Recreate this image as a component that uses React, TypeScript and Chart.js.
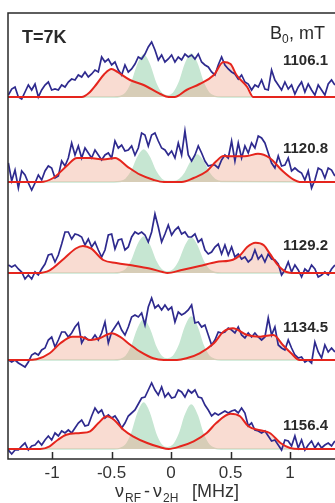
import React, { useEffect, useRef } from "react";
import { Chart, registerables } from "chart.js";

Chart.register(...registerables);

// Magnetic field of each spectrum, top to bottom (mT)
const FIELDS = ["1106.1", "1120.8", "1129.2", "1134.5", "1156.4"];

// Frequency axis (MHz)
const X_MIN = -1.37;
const X_MAX = 1.378;
const X_TICKS = [-1, -0.5, 0, 0.5, 1];
const X_TICK_LABELS = ["-1", "-0.5", "0", "0.5", "1"];

// Experimental ENDOR traces, sampled from TRACE_X0 in steps of TRACE_DX
const TRACE_X0 = -1.367;
const TRACE_DX = 0.028;

const trace1106 = [
  2, 8, 10, 0, -2, 5, 12, 7, 13, 0,
  7, 12, 15, 7, 8, 7, 12, 10, 15, 18,
  17, 22, 20, 25, 20, 23, 27, 25, 40, 35,
  38, 32, 35, 27, 22, 32, 25, 28, 33, 40,
  38, 43, 50, 55, 47, 37, 42, 35, 38, 42,
  35, 40, 37, 43, 40, 42, 38, 43, 35, 32,
  30, 25, 22, 32, 40, 32, 28, 25, 23, 18,
  22, 15, 13, 7, 12, 10, 17, 8, 7, 27,
  17, 12, 7, 15, 8, 12, 3, 10, 15, 5,
  13, 7, 2, 12, 7, 2, 13, 17, 12,
];
const trace1120 = [
  19, 1, 12, -6, 11, 7, -1, -8, -1, 7,
  2, 11, 16, 14, 4, 6, 21, 16, 24, 39,
  27, 36, 24, 34, 29, 24, 32, 27, 22, 27,
  29, 24, 41, 34, 37, 31, 32, 36, 27, 34,
  49, 47, 36, 47, 49, 41, 34, 32, 27, 31,
  24, 39, 27, 51, 27, 21, 27, 36, 29, 21,
  16, 17, 17, 14, 22, 27, 24, 41, 21, 39,
  24, 36, 29, 39, 34, 46, 44, 39, 29, 19,
  14, 26, 16, 17, 24, 11, 14, 11, 9, 2,
  11, -6, 2, 14, 12, 4, 14, 12, 6,
];
const trace1129 = [
  8, 6, 8, 4, 1, -6, -2, -6, 1, -2,
  4, 9, 18, 19, 11, 18, 29, 41, 41, 34,
  39, 38, 36, 28, 34, 26, 31, 23, 16, 23,
  38, 39, 24, 33, 34, 23, 26, 36, 41, 39,
  41, 38, 31, 41, 59, 46, 31, 39, 48, 38,
  43, 46, 39, 41, 36, 36, 39, 31, 34, 23,
  19, 21, 26, 29, 19, 28, 18, 26, 16, 19,
  14, 16, 11, 14, 23, 14, 18, 11, 19, 14,
  13, 9, -2, 3, 11, 1, 8, 3, -4, 4,
  1, 8, 4, -4, -2, 1, -2, 4, 8,
];
const trace1134 = [
  0, -2, 0, -3, -5, -7, -2, 5, 7, 5,
  10, 12, 20, 23, 13, 20, 28, 28, 23, 27,
  33, 37, 17, 23, 20, 20, 25, 20, 27, 38,
  17, 28, 33, 38, 30, 25, 33, 43, 45, 43,
  47, 35, 53, 62, 52, 55, 50, 55, 50, 53,
  38, 48, 45, 47, 50, 55, 37, 38, 33, 35,
  25, 15, 20, 28, 27, 28, 32, 30, 27, 33,
  25, 22, 27, 23, 27, 23, 20, 23, 42, 25,
  33, 15, 12, 10, 20, 12, 5, 2, 3, -2,
  0, -3, 18, 8, 2, 15, 8, 12, 8,
];
const trace1156 = [
  -1, -5, -1, -1, 3, 6, -1, 3, 4, 8,
  4, 9, 13, 9, 16, 13, 18, 16, 19, 16,
  21, 26, 29, 23, 24, 33, 41, 36, 39, 31,
  34, 31, 33, 28, 21, 26, 33, 36, 39, 45,
  51, 52, 59, 66, 59, 54, 62, 52, 56, 51,
  52, 59, 57, 52, 59, 56, 59, 52, 51, 44,
  39, 33, 36, 34, 36, 38, 36, 38, 39, 36,
  41, 36, 23, 26, 19, 18, 16, 18, 13, 8,
  9, 4, -1, 9, 8, 3, 13, 1, 9, -1,
  4, 8, 1, 6, 1, 4, 6, 3, 8,
];

// Simulated outer contribution: [frequency MHz, intensity]
const fit1106: number[][] = [
  [-1.37, 0], [-0.75, 0], [-0.69, 4], [-0.625, 13], [-0.56, 23], [-0.5, 28],
  [-0.45, 25], [-0.345, 17], [-0.23, 12], [-0.09, 3], [-0.02, 0], [0.03, 0],
  [0.13, 7], [0.24, 13], [0.36, 22], [0.44, 35], [0.5, 33], [0.55, 22],
  [0.64, 10], [0.69, 0], [1.378, 0],
];
const fit1120: number[][] = [
  [-1.37, 0], [-1.1, 0], [-0.99, 4], [-0.88, 15.7], [-0.79, 24], [-0.68, 24],
  [-0.57, 22.5], [-0.47, 24], [-0.37, 15.7], [-0.26, 7.3], [-0.15, 2.3],
  [-0.06, 0], [0.09, 0], [0.19, 4], [0.3, 10.7], [0.38, 20.7], [0.44, 26],
  [0.52, 25.7], [0.64, 26], [0.73, 28.3], [0.83, 24], [0.94, 10.7],
  [1.03, 2.3], [1.08, 0], [1.378, 0],
];
const fit1129: number[][] = [
  [-1.37, 0], [-1.13, 0], [-1.02, 2.7], [-0.9, 14.3], [-0.8, 24.5], [-0.74, 27],
  [-0.67, 24.3], [-0.57, 13], [-0.46, 10], [-0.32, 7.5], [-0.18, 4.5],
  [-0.07, 1], [-0.03, 0], [0.08, 2.7], [0.24, 7], [0.38, 11], [0.52, 13.3],
  [0.58, 17.7], [0.64, 26], [0.71, 30.3], [0.78, 27.7], [0.83, 19.3],
  [0.9, 7.7], [0.97, 1], [1.03, 0], [1.378, 0],
];
const fit1134: number[][] = [
  [-1.37, 0], [-1.21, 0], [-1.13, 0.7], [-1.02, 6.7], [-0.93, 16.7], [-0.83, 23.3],
  [-0.76, 23.3], [-0.68, 20], [-0.6, 21.7], [-0.5, 26.7], [-0.43, 23.3],
  [-0.34, 15], [-0.26, 8.3], [-0.15, 1.7], [-0.06, 0], [0.05, 0], [0.13, 1.7],
  [0.24, 6.7], [0.36, 16.7], [0.44, 28.3], [0.52, 31.7], [0.64, 25],
  [0.75, 23.3], [0.86, 25], [0.94, 15], [1.01, 6.7], [1.08, 0], [1.378, 0],
];
const fit1156: number[][] = [
  [-1.37, 0], [-1.1, 0], [-1.02, 2.7], [-0.95, 9.3], [-0.88, 14.3], [-0.76, 16],
  [-0.68, 17.7], [-0.61, 26], [-0.54, 32.7], [-0.48, 29.3], [-0.4, 19.3],
  [-0.32, 12.7], [-0.2, 6], [-0.09, 1.7], [-0.02, 0], [0.08, 2.7], [0.19, 7.7],
  [0.3, 16], [0.38, 26], [0.5, 35.3], [0.58, 32.7], [0.65, 22.7], [0.75, 18.7],
  [0.83, 16], [0.92, 6], [1.0, 1], [1.08, 0], [1.378, 0],
];

// Inner (matrix) lines, sampled on GREEN_X
const GREEN_X = [
  -1.37, -0.48, -0.43, -0.38, -0.33, -0.28, -0.23, -0.18, -0.13, -0.08, -0.03,
  0.02, 0.07, 0.12, 0.17, 0.22, 0.27, 0.32, 0.37, 0.42, 1.378,
];
const inner1106 = [0, 0, 0.5, 3.7, 14.2, 32, 42, 32, 14.2, 3.7, 1.1, 3.8, 14.6, 32.8, 43, 32.8, 14.6, 3.8, 0.6, 0, 0];
const inner1120 = [0, 0, 0.4, 2.8, 10.8, 24.4, 32, 24.4, 10.8, 2.8, 0.4, 0.4, 2.4, 9.2, 20.6, 27, 20.6, 9.2, 2.4, 0.4, 0];
const inner1129 = [0, 0, 0.5, 3.2, 12.2, 27.5, 36, 27.5, 12.2, 3.2, 1.0, 3.1, 11.9, 26.7, 35, 26.7, 11.9, 3.1, 0.5, 0, 0];
const inner1134 = [0, 0, 0.5, 3.5, 13.6, 30.5, 40, 30.5, 13.6, 3.5, 1.1, 3.8, 14.6, 32.8, 43, 32.8, 14.6, 3.8, 0.6, 0, 0];
const inner1156 = [0, 0, 0.6, 4.0, 15.6, 35.1, 46, 35.1, 15.6, 4.0, 1.2, 3.9, 14.9, 33.6, 44, 33.6, 14.9, 3.9, 0.6, 0, 0];

const TRACES = [trace1106, trace1120, trace1129, trace1134, trace1156];
const FITS = [fit1106, fit1120, fit1129, fit1134, fit1156];
const INNER = [inner1106, inner1120, inner1129, inner1134, inner1156];

// Stacking: baseline of each spectrum and height of its field label
const PANEL_BASE = [362, 277, 186, 99, 10];
const LABEL_LIFT = [32, 29, 23, 28, 19];
const Y_TOP = 446;

const BLUE = "#2e2a8e";
const RED = "#e5251d";
const GREEN_FILL = "rgb(198,230,210)";
const PINK_FILL = "rgba(240,168,142,0.4)";
const INK = "#2a2a2a";
const FONT = '"Liberation Sans", Arial, Helvetica, sans-serif';

const framePlugin = {
  id: "frame",
  afterDraw(chart: any) {
    const { ctx, chartArea: a, scales } = chart;
    const xs = scales.x;
    const ys = scales.y;
    ctx.save();
    ctx.strokeStyle = INK;
    ctx.lineWidth = 1.5;
    ctx.beginPath();
    ctx.moveTo(a.right, a.top);
    ctx.lineTo(a.left, a.top);
    ctx.lineTo(a.left, a.bottom);
    ctx.lineTo(a.right, a.bottom);
    for (const v of X_TICKS) {
      const px = Math.round(xs.getPixelForValue(v)) + 0.5;
      ctx.moveTo(px, a.bottom);
      ctx.lineTo(px, a.bottom - 7);
    }
    ctx.stroke();

    // tick labels
    ctx.fillStyle = "#333";
    ctx.textBaseline = "alphabetic";
    ctx.textAlign = "center";
    ctx.font = `17px ${FONT}`;
    X_TICKS.forEach((v, i) => {
      ctx.fillText(X_TICK_LABELS[i], xs.getPixelForValue(v), 478);
    });

    ctx.fillStyle = INK;
    // temperature
    ctx.textAlign = "left";
    ctx.font = `bold 18px ${FONT}`;
    ctx.fillText("T=7K", 22, 43);

    // field header
    ctx.font = `18px ${FONT}`;
    ctx.fillText("B", 270, 39);
    ctx.font = `12px ${FONT}`;
    ctx.fillText("0", 282, 43);
    ctx.font = `18px ${FONT}`;
    ctx.fillText(", mT", 289, 39);

    // field labels
    ctx.textAlign = "right";
    ctx.font = `bold 15px ${FONT}`;
    FIELDS.forEach((f, i) => {
      ctx.fillText(f, 328, ys.getPixelForValue(PANEL_BASE[i] + LABEL_LIFT[i]));
    });

    // axis title
    ctx.textAlign = "left";
    ctx.fillStyle = "#333";
    const big = `18px ${FONT}`;
    const small = `12px ${FONT}`;
    const yb = 497;
    ctx.font = big;
    ctx.fillText("ν", 115, yb);
    ctx.font = small;
    ctx.fillText("RF", 125, yb + 5);
    ctx.font = big;
    ctx.fillText("-", 144, yb);
    ctx.fillText("ν", 153, yb);
    ctx.font = small;
    ctx.fillText("2H", 163, yb + 5);
    ctx.font = big;
    ctx.fillText("[MHz]", 192, yb);
    ctx.restore();
  },
};

export default function App() {
  const ref = useRef<HTMLCanvasElement | null>(null);

  useEffect(() => {
    document.body.style.margin = "0";
    const datasets: any[] = [];
    TRACES.forEach((tr, i) => {
      const base = PANEL_BASE[i];
      const fit = FITS[i].map(([x, v]) => ({ x, y: base + v }));
      datasets.push({
        data: tr.map((v, k) => ({ x: TRACE_X0 + k * TRACE_DX, y: base + v })),
        borderColor: BLUE,
        borderWidth: 1.7,
        pointRadius: 0,
        tension: 0,
        fill: false,
        order: 2,
      });
      datasets.push({
        data: fit,
        borderColor: RED,
        borderWidth: 2,
        pointRadius: 0,
        cubicInterpolationMode: "monotone",
        fill: false,
        order: 1,
      });
      datasets.push({
        data: fit,
        borderWidth: 0,
        borderColor: "rgba(0,0,0,0)",
        backgroundColor: PINK_FILL,
        pointRadius: 0,
        cubicInterpolationMode: "monotone",
        fill: { value: base },
        order: 3,
      });
      datasets.push({
        data: GREEN_X.map((x, k) => ({ x, y: base + INNER[i][k] })),
        borderColor: GREEN_FILL,
        borderWidth: 1.5,
        backgroundColor: GREEN_FILL,
        pointRadius: 0,
        cubicInterpolationMode: "monotone",
        fill: { value: base },
        order: 4,
      });
    });

    const chart = new Chart(ref.current as HTMLCanvasElement, {
      type: "line",
      data: { datasets },
      plugins: [framePlugin],
      options: {
        animation: false,
        responsive: true,
        maintainAspectRatio: false,
        layout: { padding: { left: 8, top: 13, right: 0, bottom: 0 } },
        plugins: { legend: { display: false }, tooltip: { enabled: false } },
        scales: {
          x: {
            type: "linear",
            min: X_MIN,
            max: X_MAX,
            grid: { display: false },
            border: { display: false },
            afterFit: (s: any) => {
              s.height = 44;
            },
            ticks: { display: false },
          },
          y: {
            display: false,
            min: 0,
            max: Y_TOP,
          },
        },
      },
    });
    return () => chart.destroy();
  }, []);

  return (
    <div style={{ width: 335, height: 503, position: "relative" }}>
      <canvas ref={ref} />
    </div>
  );
}
